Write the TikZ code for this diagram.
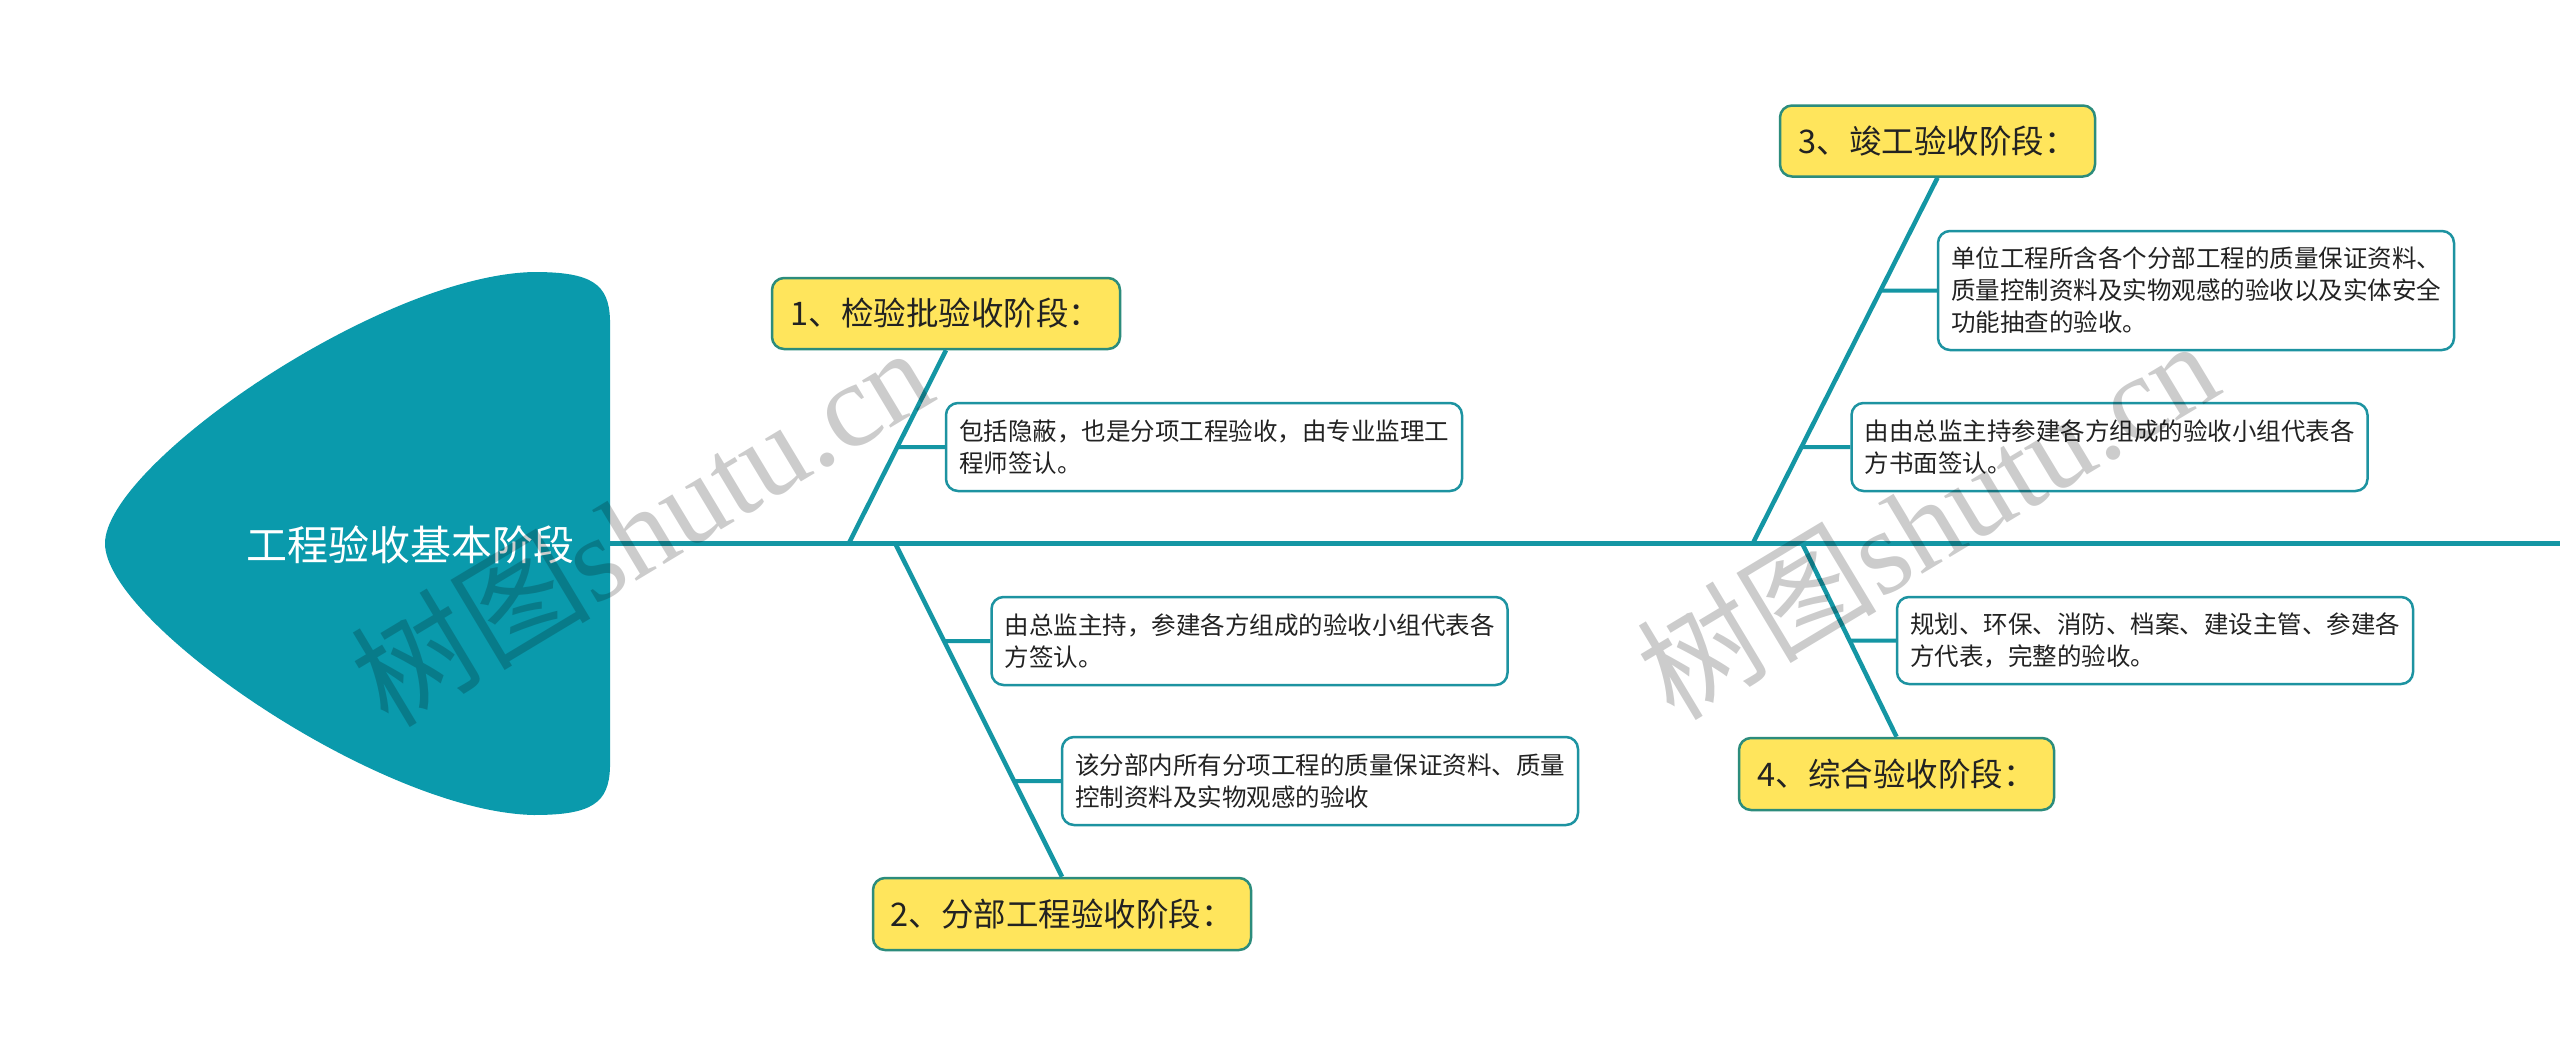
\documentclass[tikz,border=0pt]{standalone}
\usepackage{fontspec}
\setmainfont{Noto Sans CJK SC}
\newfontfamily\wmlatin{Liberation Serif}
\usetikzlibrary{calc}
\definecolor{headc}{HTML}{0A9AAC}
\definecolor{linec}{HTML}{1496A4}
\definecolor{yfill}{HTML}{FFE55C}
\definecolor{yborder}{HTML}{2C8C7C}
\definecolor{wborder}{HTML}{1D93A1}
\definecolor{txt}{HTML}{222222}
\begin{document}
\begin{tikzpicture}[x=1pt,y=-1pt,
  stage/.style={draw=yborder, line width=2.5pt, fill=yfill, rounded corners=12pt, inner sep=0pt,
    font=\fontsize{32.5}{38}\selectfont, text=txt},
  detail/.style={draw=wborder, line width=2.5pt, fill=white, rounded corners=12pt,
    text width=490pt, inner xsep=13pt, inner ysep=0pt, align=left, minimum width=516pt,
    font=\fontsize{24.5}{32}\selectfont, text=txt},
  spineline/.style={draw=linec, line width=5pt},
  bone/.style={draw=linec, line width=4.5pt},
  rib/.style={draw=linec, line width=4pt},
  wmark/.style={text=black, text opacity=0.2, rotate=31, inner sep=0pt, font=\fontsize{120}{130}\selectfont},
]
\useasboundingbox (0,0) rectangle (2560,1057);
\fill[white] (0,0) rectangle (2560,1057);

% head
\fill[headc] (610,320) .. controls (609,284) and (592,272) .. (534,272)
  .. controls (380,275) and (105,465) .. (105,543.5)
  .. controls (105,622) and (380,812) .. (534,815)
  .. controls (592,815) and (609,803) .. (610,767) -- cycle;
\node[text=white, font=\fontsize{41}{48}\selectfont, inner sep=0pt] (head) at (410,545) {工程验收基本阶段};
\coordinate (headR) at (610,543);
\coordinate (spineEnd) at (2560,543);

% stage boxes
\node[stage, minimum width=348pt, minimum height=71pt] (b1) at (946,313.5) {1、检验批验收阶段：};
\node[stage, minimum width=378pt, minimum height=72pt] (b2) at (1062,914) {2、分部工程验收阶段：};
\node[stage, minimum width=315pt, minimum height=71pt] (b3) at (1937.5,141) {3、竣工验收阶段：};
\node[stage, minimum width=315pt, minimum height=72pt] (b4) at (1896.5,774) {4、综合验收阶段：};

% detail boxes
\node[detail, minimum height=88pt] (w1) at (1204,447) {包括隐蔽，也是分项工程验收，由专业监理工\\程师签认。};
\node[detail, minimum height=88pt] (w2) at (1249.5,641) {由总监主持，参建各方组成的验收小组代表各\\方签认。};
\node[detail, minimum height=88pt] (w3) at (1320,781) {该分部内所有分项工程的质量保证资料、质量\\控制资料及实物观感的验收};
\node[detail, minimum height=119pt] (w4) at (2196,290.5) {单位工程所含各个分部工程的质量保证资料、\\质量控制资料及实物观感的验收以及实体安全\\功能抽查的验收。};
\node[detail, minimum height=88pt] (w5) at (2109.5,447) {由由总监主持参建各方组成的验收小组代表各\\方书面签认。};
\node[detail, minimum height=87pt] (w6) at (2155,640.5) {规划、环保、消防、档案、建设主管、参建各\\方代表，完整的验收。};

% spine and bones
\draw[spineline] (headR) -- (spineEnd);
\coordinate (j1) at (849,543);
\coordinate (j2) at (895,543);
\coordinate (j3) at (1753,543);
\coordinate (j4) at (1802,543);
\draw[bone] (j1) -- (b1.south);
\draw[bone] (j2) -- (b2.north);
\draw[bone] (j3) -- (b3.south);
\draw[bone] (j4) -- (b4.north);

% ribs
\draw[rib] (intersection of j1--b1.south and w1.west--w1.east) -- (w1.west);
\draw[rib] (intersection of j2--b2.north and w2.west--w2.east) -- (w2.west);
\draw[rib] (intersection of j2--b2.north and w3.west--w3.east) -- (w3.west);
\draw[rib] (intersection of j3--b3.south and w4.west--w4.east) -- (w4.west);
\draw[rib] (intersection of j3--b3.south and w5.west--w5.east) -- (w5.west);
\draw[rib] (intersection of j4--b4.north and w6.west--w6.east) -- (w6.west);

% watermarks
\node[wmark] (wm1) at (641,525) {树图{\wmlatin shutu.cn}};
\node[wmark] (wm2) at (1927,518) {树图{\wmlatin shutu.cn}};
\end{tikzpicture}
\end{document}
